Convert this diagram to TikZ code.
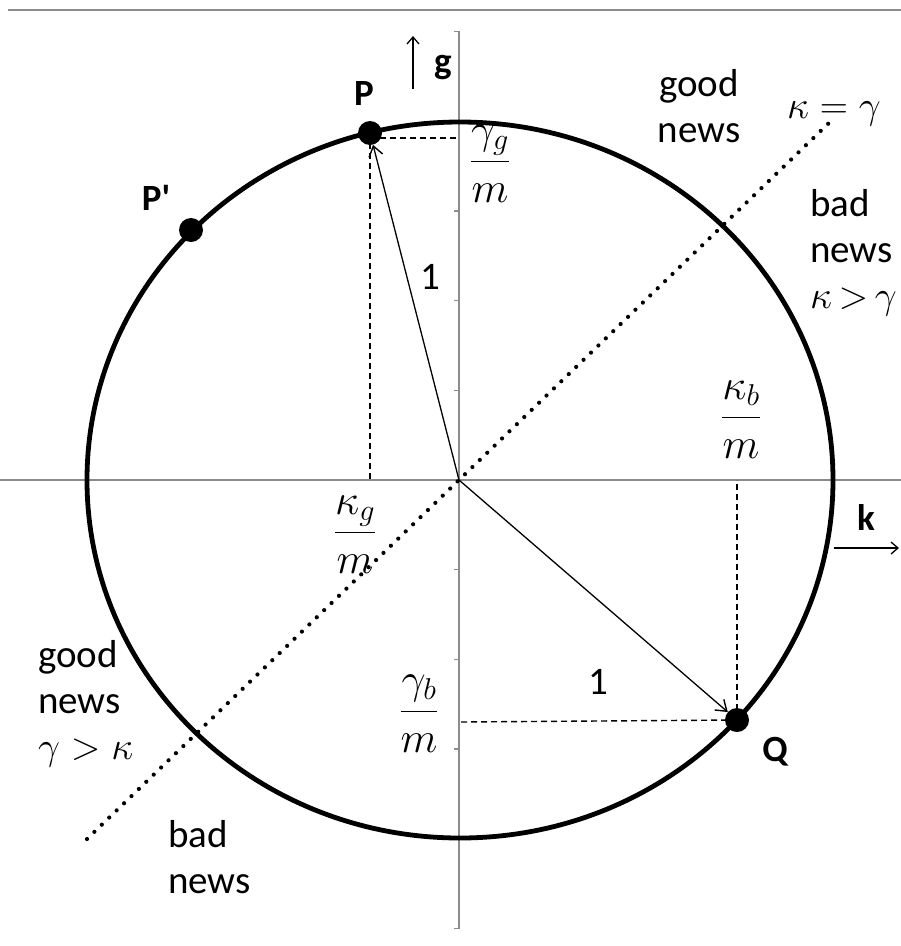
\RequirePackage{fix-cm}
\documentclass[tikz,border=0pt]{standalone}
\usepackage{amsmath}
\usepackage{fontspec}
\setmainfont{Carlito}
\newfontfamily\lblfont{Carlito}
\usetikzlibrary{arrows.meta}
\begin{document}
\begin{tikzpicture}[x=1pt,y=-1pt,
  axisline/.style={draw=black!45,line width=1.6pt},
  thick circle/.style={line width=4.8pt},
  dotpt/.style={circle,fill=black,inner sep=0pt,minimum size=24pt},
  radial/.style={line width=1.3pt,-{Straight Barb[length=10pt,width=14pt,line width=1.4pt]}},
  axarrow/.style={line width=1.3pt,-{Straight Barb[length=7pt,width=12pt,line width=1.3pt]}},
  dashline/.style={line width=1.4pt,dash pattern=on 6pt off 4pt},
  dotline/.style={line width=4.2pt,line cap=round,dash pattern=on 0pt off 10.3pt},
  txt/.style={font=\fontsize{39}{46}\selectfont,inner sep=0pt},
  lbl/.style={font=\lblfont\fontsize{37}{44}\selectfont\bfseries,inner sep=0pt},
  frac/.style={font=\fontsize{43}{50}\selectfont,inner sep=0pt,anchor=base}]
\useasboundingbox (0,0) rectangle (901,946);
% frame line on top
\draw[draw=black!45,line width=2.6pt] (8,10) -- (901,10);
% axes
\coordinate (O) at (459,480);
\coordinate (xl) at (0,480);
\coordinate (xr) at (901,480);
\coordinate (yt) at (459,31);
\coordinate (yb) at (459,929);
\draw[axisline] (xl) -- (xr);
\draw[axisline] (yt) -- (yb);
\foreach \k in {-5,...,5}{
  \draw[draw=black!45,line width=1.4pt] (459,480+89.7*\k) -- (454,480+89.7*\k);
}
% circle
\draw[thick circle] (460,480) ellipse [x radius=373, y radius=358];
% kappa = gamma line
\coordinate (d1) at (87,839);
\coordinate (d2) at (831,121);
\draw[dotline] (d1) -- (d2);
% points
\node[dotpt] (P) at (370,133) {};
\node[dotpt] (Pp) at (191,230) {};
\node[dotpt] (Q) at (737,720) {};
% dashed projections
\coordinate (Py) at (459,138);
\coordinate (Pk) at (370,480);
\coordinate (Qy) at (459,722);
\coordinate (Qk) at (737,480);
\draw[dashline] (370,138) -- (Py);
\draw[dashline] (P.center) -- (Pk);
\draw[dashline] (Q.center) -- (Qy);
\draw[dashline] (Q.center) -- (Qk);
% radial vectors
\draw[radial] (O) -- (P);
\draw[radial] (O) -- (Q);
% axis arrows
\coordinate (ga) at (413,89);
\coordinate (gb) at (413,36);
\coordinate (ka) at (834,548);
\coordinate (kb) at (899,548);
\draw[axarrow] (ga) -- (gb);
\draw[axarrow] (ka) -- (kb);
% labels
\node[lbl] (lg) at (443,68) {g};
\node[lbl] (lk) at (866,518) {k};
\node[lbl] (lP) at (364,93) {P};
\node[lbl] (lPp) at (156,198) {P'};
\node[lbl] (lQ) at (775,752) {Q};
\node[txt] (one1) at (430,277) {1};
\node[txt] (one2) at (598,682) {1};
\node[frac] (fgg) at (490,172.5) {$\dfrac{\gamma_g}{m}$};
\node[frac] (fkg) at (355,543.5) {$\dfrac{\kappa_g}{m}$};
\node[frac] (fkb) at (741,428.5) {$\dfrac{\kappa_b}{m}$};
\node[frac] (fgb) at (419,722.5) {$\dfrac{\gamma_b}{m}$};
\node[txt] (keg) at (834,114) {$\kappa=\gamma$};
\node[txt,align=center] (gn1) at (699,106) {good\\news};
\node[txt,align=left,anchor=west] (bn1) at (810,253) {bad\\news\\$\kappa\mskip3mu{>}\mskip3mu\gamma$};
\node[txt,align=left,anchor=west] (gn2) at (38,704) {good\\news\\$\gamma>\kappa$};
\node[txt,align=left,anchor=west] (bn2) at (168,857) {bad\\news};
\end{tikzpicture}
\end{document}
